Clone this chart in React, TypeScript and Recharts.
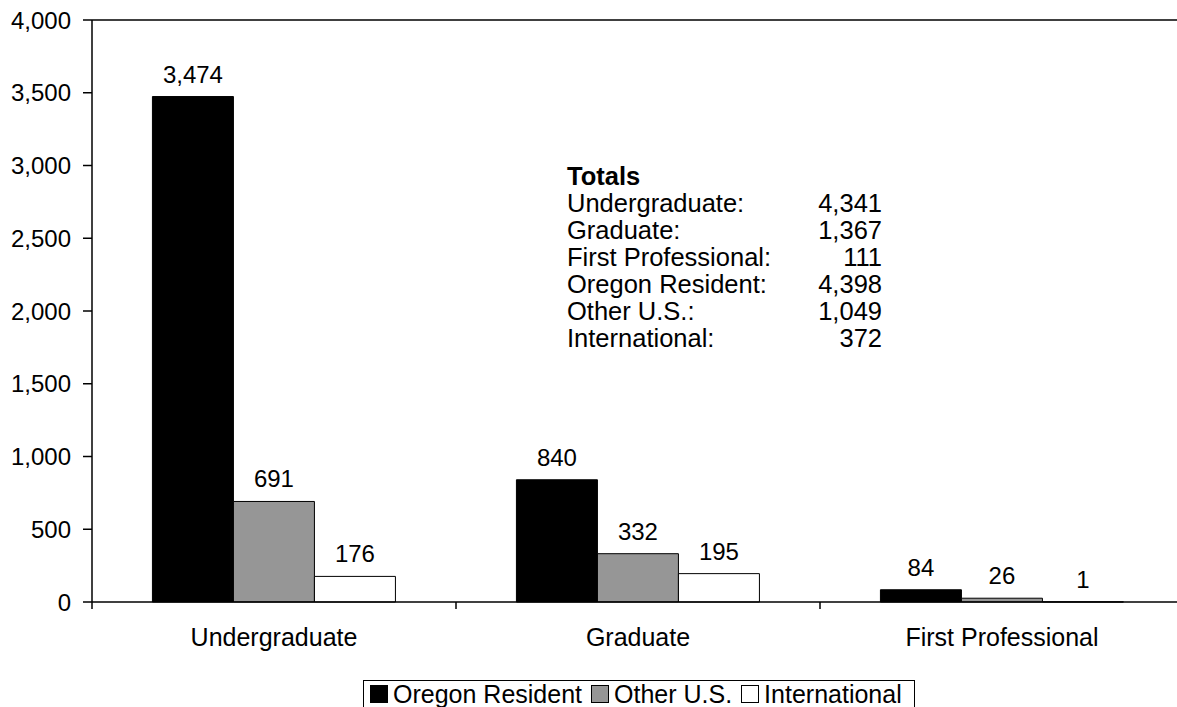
import React from 'react';
import { BarChart, Bar, XAxis, YAxis, LabelList, Legend, ReferenceLine } from 'recharts';

const categories = ['Undergraduate', 'Graduate', 'First Professional'];
const oregonResident = [3474, 840, 84];
const otherUS = [691, 332, 26];
const international = [176, 195, 1];
const seriesNames = ['Oregon Resident', 'Other U.S.', 'International'];
const seriesColors = ['#000000', '#969696', '#ffffff'];
const yTicks = [0, 500, 1000, 1500, 2000, 2500, 3000, 3500, 4000];
const totalsTitle = 'Totals';
const totalsLabels = ['Undergraduate:', 'Graduate:', 'First Professional:', 'Oregon Resident:', 'Other U.S.:', 'International:'];
const totalsValues = [4341, 1367, 111, 4398, 1049, 372];

const data = categories.map((c, i) => ({
  category: c,
  oregon: oregonResident[i],
  other: otherUS[i],
  intl: international[i],
}));

const FONT = '"Liberation Sans", Arial, Helvetica, sans-serif';
const fmt = (v: any) => Number(v).toLocaleString('en-US');

const XTick = (props: any) => {
  const { x, y, payload, index } = props;
  const off = payload && typeof payload.offset === 'number' && payload.offset > 0 ? payload.offset : 182;
  return (
    <g>
      <line x1={x - off} x2={x - off} y1={y} y2={y + 7} stroke="#000" strokeWidth={1.5} />
      {index === categories.length - 1 && (
        <line x1={x + off} x2={x + off} y1={y} y2={y + 7} stroke="#000" strokeWidth={1.5} />
      )}
      <text x={x} y={y + 44} textAnchor="middle" fontSize={25} fill="#000" fontFamily={FONT}>
        {payload.value}
      </text>
    </g>
  );
};

const LegendBox = (props: any) => {
  const payload = [...(props.payload || [])].sort(
    (a: any, b: any) => seriesNames.indexOf(a.value) - seriesNames.indexOf(b.value)
  );
  return (
    <div
      style={{
        display: 'inline-flex',
        alignItems: 'center',
        border: '1px solid #000',
        padding: '0 12px 12px 6px',
        fontFamily: FONT,
        fontSize: 25,
        lineHeight: '26px',
        background: '#fff',
        whiteSpace: 'nowrap',
        color: '#000',
      }}
    >
      {payload.map((p: any, i: number) => (
        <span key={i} style={{ display: 'inline-flex', alignItems: 'center', marginRight: i < payload.length - 1 ? 9 : 0 }}>
          <span
            style={{
              width: 16,
              height: 16,
              background: p.color,
              border: '1px solid #000',
              marginRight: 5,
              display: 'inline-block',
            }}
          />
          {p.value}
        </span>
      ))}
    </div>
  );
};

export default function App() {
  return (
    <div style={{ position: 'fixed', left: 0, top: 0, width: 1177, height: 707, overflow: 'hidden', background: '#fff' }}>
      <BarChart
        width={1188}
        height={707}
        data={data}
        margin={{ top: 20, right: 4, bottom: 45, left: 0 }}
        barCategoryGap="16.6%"
        barGap={0}
      >
        <ReferenceLine y={4000} stroke="#000" strokeWidth={1.5} />
        <XAxis
          dataKey="category"
          axisLine={{ stroke: '#000', strokeWidth: 1.5 }}
          tickLine={false}
          tickSize={0}
          tickMargin={0}
          height={60}
          interval={0}
          tick={<XTick />}
        />
        <YAxis
          domain={[0, 4000]}
          ticks={yTicks}
          width={92}
          axisLine={{ stroke: '#000', strokeWidth: 1.5 }}
          tickLine={{ stroke: '#000', strokeWidth: 1.5 }}
          tickSize={9}
          tickMargin={12}
          tickFormatter={fmt}
          tick={{ fontSize: 24, fill: '#000', fontFamily: FONT }}
        />
        <Legend
          verticalAlign="middle"
          align="center"
          layout="horizontal"
          content={<LegendBox />}
          wrapperStyle={{ left: 363, top: 680, width: 'auto', height: 'auto' }}
        />
        <Bar dataKey="oregon" name={seriesNames[0]} fill={seriesColors[0]} stroke="#000" strokeWidth={1} isAnimationActive={false}>
          <LabelList dataKey="oregon" position="top" offset={14} formatter={fmt} style={{ fontSize: 24, fill: '#000', fontFamily: FONT }} />
        </Bar>
        <Bar dataKey="other" name={seriesNames[1]} fill={seriesColors[1]} stroke="#000" strokeWidth={1} isAnimationActive={false}>
          <LabelList dataKey="other" position="top" offset={14} formatter={fmt} style={{ fontSize: 24, fill: '#000', fontFamily: FONT }} />
        </Bar>
        <Bar dataKey="intl" name={seriesNames[2]} fill={seriesColors[2]} stroke="#000" strokeWidth={1} isAnimationActive={false}>
          <LabelList dataKey="intl" position="top" offset={14} formatter={fmt} style={{ fontSize: 24, fill: '#000', fontFamily: FONT }} />
        </Bar>
      </BarChart>
      <div
        style={{
          position: 'absolute',
          left: 567,
          top: 162.7,
          width: 315,
          fontFamily: FONT,
          fontSize: 25.5,
          lineHeight: '27px',
          color: '#000',
        }}
      >
        <div style={{ fontWeight: 'bold' }}>{totalsTitle}</div>
        {totalsLabels.map((l, i) => (
          <div key={i} style={{ display: 'flex', justifyContent: 'space-between' }}>
            <span>{l}</span>
            <span>{fmt(totalsValues[i])}</span>
          </div>
        ))}
      </div>
    </div>
  );
}
